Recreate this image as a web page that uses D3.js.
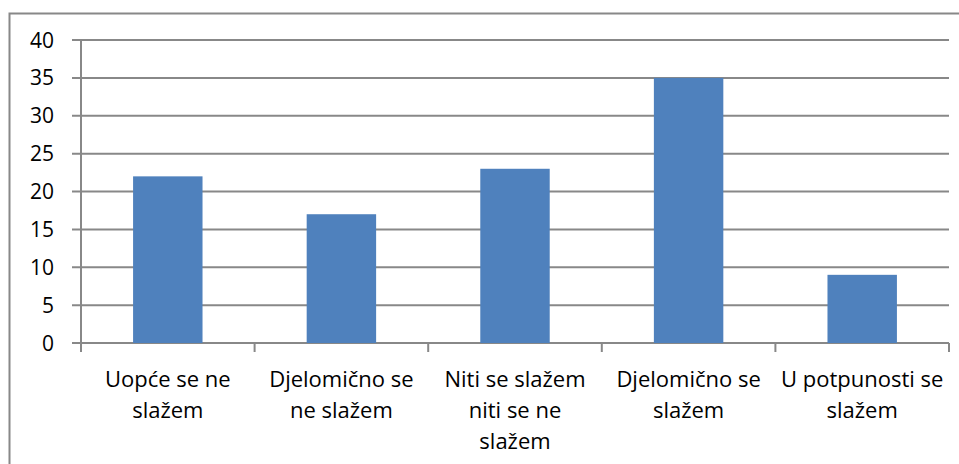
<!DOCTYPE html>
<html>
<head>
<meta charset="utf-8">
<script src="https://d3js.org/d3.v7.min.js"></script>
<style>
body { margin:0; background:#fff; }
svg text { font-family: "Open Sans", sans-serif; fill:#000; }
</style>
</head>
<body>
<svg id="viz" width="959" height="464"></svg>
<script>
var categories = [
	["Uopće se ne", "slažem"],
	["Djelomično se", "ne slažem"],
	["Niti se slažem", "niti se ne", "slažem"],
	["Djelomično se", "slažem"],
	["U potpunosti se", "slažem"]
];
var values = [22, 17, 23, 35, 9];
var yTicks = [0, 5, 10, 15, 20, 25, 30, 35, 40];

var svg = d3.select("#viz");
var plotLeft = 81, plotRight = 949, plotTop = 40, plotBottom = 343;

// outer border
svg.append("rect").attr("x",9.5).attr("y",13.5).attr("width",960).attr("height",460)
	.attr("fill","none").attr("stroke","#888").attr("stroke-width",2);

var xScale = d3.scaleBand().domain(d3.range(values.length)).range([plotLeft,plotRight]);
var yScale = d3.scaleLinear().domain([0,40]).range([plotBottom,plotTop]);

// gridlines
svg.append("g").selectAll("line").data(yTicks).enter().append("line")
	.attr("x1",plotLeft-9).attr("x2",plotRight)
	.attr("y1",function(d){return yScale(d);}).attr("y2",function(d){return yScale(d);})
	.attr("stroke","#888").attr("stroke-width",2);

// bars
var bw = xScale.bandwidth()*0.4;
svg.append("g").selectAll("rect").data(values).enter().append("rect")
	.attr("x",function(d,i){return xScale(i)+xScale.bandwidth()/2-bw/2;})
	.attr("y",function(d){return yScale(d);})
	.attr("width",bw)
	.attr("height",function(d){return plotBottom-yScale(d);})
	.attr("fill","#4F81BD");

// y axis line
svg.append("line").attr("x1",plotLeft).attr("x2",plotLeft).attr("y1",plotTop).attr("y2",plotBottom+9)
	.attr("stroke","#888").attr("stroke-width",2);

// x ticks between categories
svg.append("g").selectAll("line").data(d3.range(values.length+1)).enter().append("line")
	.attr("x1",function(i){return plotLeft+i*xScale.bandwidth();})
	.attr("x2",function(i){return plotLeft+i*xScale.bandwidth();})
	.attr("y1",plotBottom).attr("y2",plotBottom+9)
	.attr("stroke","#888").attr("stroke-width",2);

// y labels
svg.append("g").selectAll("text").data(yTicks).enter().append("text")
	.attr("x",54).attr("y",function(d){return yScale(d);})
	.attr("dy","0.36em").attr("text-anchor","end")
	.style("font-size","21px").text(function(d){return d;});

// x labels
svg.append("g").selectAll("text").data(categories).enter().append("text")
	.attr("text-anchor","middle").style("font-size","22px")
	.each(function(lines,i){
		var t = d3.select(this);
		lines.forEach(function(l,j){
			t.append("tspan").attr("x",xScale(i)+xScale.bandwidth()/2)
				.attr("y",387+j*31).text(l);
		});
	});
</script>
</body>
</html>
